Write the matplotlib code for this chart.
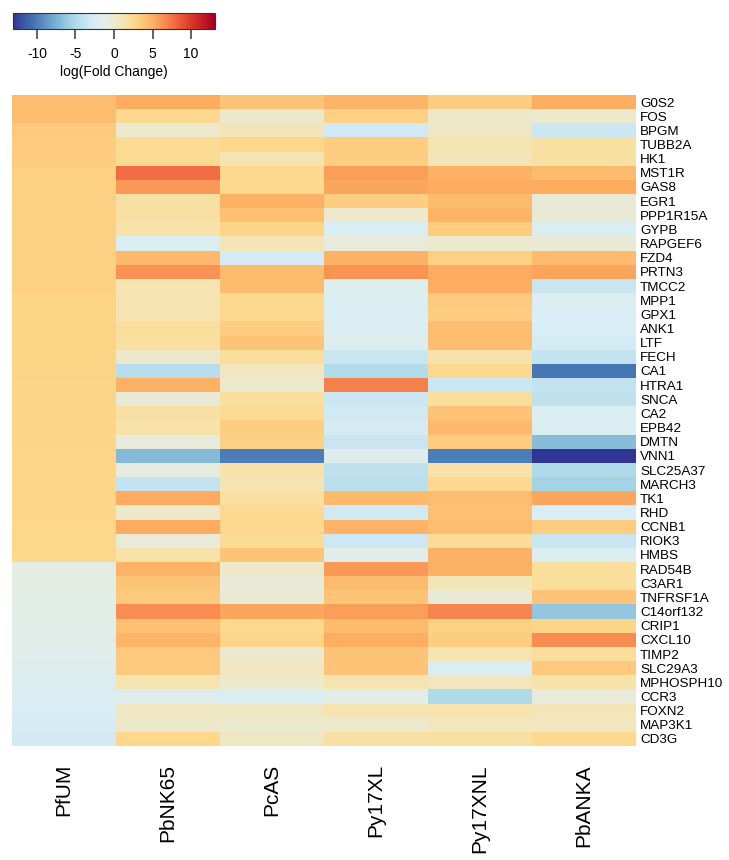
import numpy as np
import matplotlib
matplotlib.use("Agg")
from matplotlib import pyplot as plt
from matplotlib.colors import LinearSegmentedColormap

plt.rcParams['font.family'] = ['Liberation Sans', 'DejaVu Sans']
plt.rcParams['axes.unicode_minus'] = False

genes = ["G0S2", "FOS", "BPGM", "TUBB2A", "HK1", "MST1R", "GAS8", "EGR1",
         "PPP1R15A", "GYPB", "RAPGEF6", "FZD4", "PRTN3", "TMCC2", "MPP1",
         "GPX1", "ANK1", "LTF", "FECH", "CA1", "HTRA1", "SNCA", "CA2",
         "EPB42", "DMTN", "VNN1", "SLC25A37", "MARCH3", "TK1", "RHD",
         "CCNB1", "RIOK3", "HMBS", "RAD54B", "C3AR1", "TNFRSF1A",
         "C14orf132", "CRIP1", "CXCL10", "TIMP2", "SLC29A3", "MPHOSPH10",
         "CCR3", "FOXN2", "MAP3K1", "CD3G"]

strains = ["PfUM", "PbNK65", "PcAS", "Py17XL", "Py17XNL", "PbANKA"]

PfUM = [4.2, 4.2, 3.5, 3.3, 3.2, 3.1, 3.1, 3.0, 3.0, 3.0, 3.0, 3.0, 3.0,
        3.0, 2.9, 2.9, 2.9, 2.9, 2.9, 2.9, 2.8, 2.8, 2.8, 2.8, 2.8, 2.7,
        2.7, 2.7, 2.7, 2.7, 2.6, 2.6, 2.6, -1.0, -1.1, -1.2, -1.3, -1.4,
        -1.5, -1.7, -1.9, -2.1, -2.3, -2.5, -2.7, -2.9]
PbNK65 = [5.3, 2.5, 0.0, 2.3, 2.3, 7.8, 6.0, 1.8, 1.8, 1.5, -2.3, 4.5, 6.3,
          1.2, 1.2, 1.2, 2.0, 1.8, 0.3, -4.5, 5.0, -0.3, 1.8, 1.5, -0.5,
          -7.0, -0.8, -3.8, 5.3, 0.3, 5.3, -0.5, 1.5, 4.8, 3.8, 3.5, 6.5,
          4.0, 4.8, 3.5, 3.5, 1.2, -1.8, 0.5, 0.3, 2.6]
PcAS = [3.8, 0.3, 1.0, 2.6, 1.2, 2.5, 2.5, 5.0, 4.0, 2.8, 1.0, -2.8, 4.3,
        4.3, 2.5, 2.5, 3.2, 3.8, 2.0, 0.8, 0.0, 2.0, 2.3, 3.2, 3.0, -10.0,
        1.5, 1.2, 1.8, 2.5, 2.5, 2.3, 3.8, 0.3, -0.3, -0.3, 5.5, 2.5, 2.8,
        0.0, 0.8, 0.2, -2.3, 0.5, 0.2, 0.5]
Py17XL = [4.8, 3.0, -3.0, 3.2, 3.2, 5.8, 5.5, 3.2, 0.2, -2.5, -0.5, 5.0,
          6.2, -2.0, -2.3, -2.3, -2.3, -2.0, -3.5, -4.8, 7.0, -3.3, -3.0,
          -2.8, -3.5, -1.8, -4.0, -4.3, 4.5, -3.0, 4.8, -3.2, -1.5, 6.0,
          4.3, 3.8, 5.8, 4.3, 5.2, 3.8, 3.8, 1.2, -1.2, 1.2, 0.2, 1.8]
Py17XNL = [3.2, 0.3, 0.5, 1.3, 1.0, 5.0, 5.3, 4.3, 4.8, 3.3, 0.2, 3.0, 5.3,
           5.2, 3.5, 3.2, 4.2, 4.2, 1.5, 2.5, -3.3, 2.0, 3.8, 4.5, 3.3,
           -10.0, 1.5, 2.5, 4.2, 4.0, 4.2, 2.2, 5.0, 5.0, 1.0, -0.3, 6.8,
           3.0, 3.2, 1.2, -2.3, 0.8, -5.0, 1.3, 0.8, 1.8]
PbANKA = [5.2, 0.2, -3.3, 1.8, 1.8, 4.3, 5.3, -0.3, -0.3, -2.3, -0.3, 4.3,
          5.6, -3.5, -2.3, -2.5, -2.5, -2.8, -3.8, -10.3, -3.8, -4.0, -2.3,
          -2.3, -6.8, -13.0, -5.0, -5.5, 5.5, -2.5, 3.3, -3.5, -2.3, 2.0,
          2.0, 3.8, -6.3, 2.8, 6.5, 2.0, 3.5, 1.5, -0.5, 1.0, 0.8, 2.5]

cbar_ticks = [-10, -5, 0, 5, 10]

data = np.column_stack([PfUM, PbNK65, PcAS, Py17XL, Py17XNL, PbANKA])
vlim = 13.1

# RdYlBu-like ramp with a greyish, less saturated centre
stops = [(-13.1, "#313695"), (-10.4, "#4575b4"), (-7.8, "#74add1"),
         (-5.2, "#abd9e9"), (-2.6, "#d9edf5"), (-1.0, "#e4ede4"),
         (0.0, "#ecead0"), (1.3, "#f6e4b0"), (2.6, "#fdd98c"),
         (5.2, "#fdae61"), (7.8, "#f46d43"), (10.4, "#d73027"),
         (13.1, "#a50026")]
cmap = LinearSegmentedColormap.from_list(
    "fc", [((v + vlim) / (2 * vlim), c) for v, c in stops])

fig = plt.figure(figsize=(7.29, 8.6), dpi=100)
ax = fig.add_axes([12/729, 1 - 746/860, 624/729, 651/860])

im = ax.imshow(data, cmap=cmap, vmin=-vlim, vmax=vlim,
               aspect="auto", interpolation="nearest")

ax.set_xticks(range(len(strains)))
ax.set_xticklabels(strains, rotation=90, fontsize=15)
ax.set_yticks(range(len(genes)))
ax.set_yticklabels(genes, fontsize=9.7)
ax.yaxis.tick_right()
ax.tick_params(axis="x", length=0, pad=13)
ax.tick_params(axis="y", length=0, pad=3)
for s in ax.spines.values():
    s.set_visible(False)

cax = fig.add_axes([13/729, 1 - 29/860, 202/729, 16/860])
cb = fig.colorbar(im, cax=cax, orientation="horizontal", ticks=cbar_ticks)
cb.outline.set_linewidth(0.8)
cb.outline.set_edgecolor("#333333")
cax.tick_params(length=7, width=1.3, color="#555555", labelsize=10, pad=6)
cb.set_label("log(Fold Change)", fontsize=10, labelpad=3)

plt.savefig("out.png", dpi=100)
